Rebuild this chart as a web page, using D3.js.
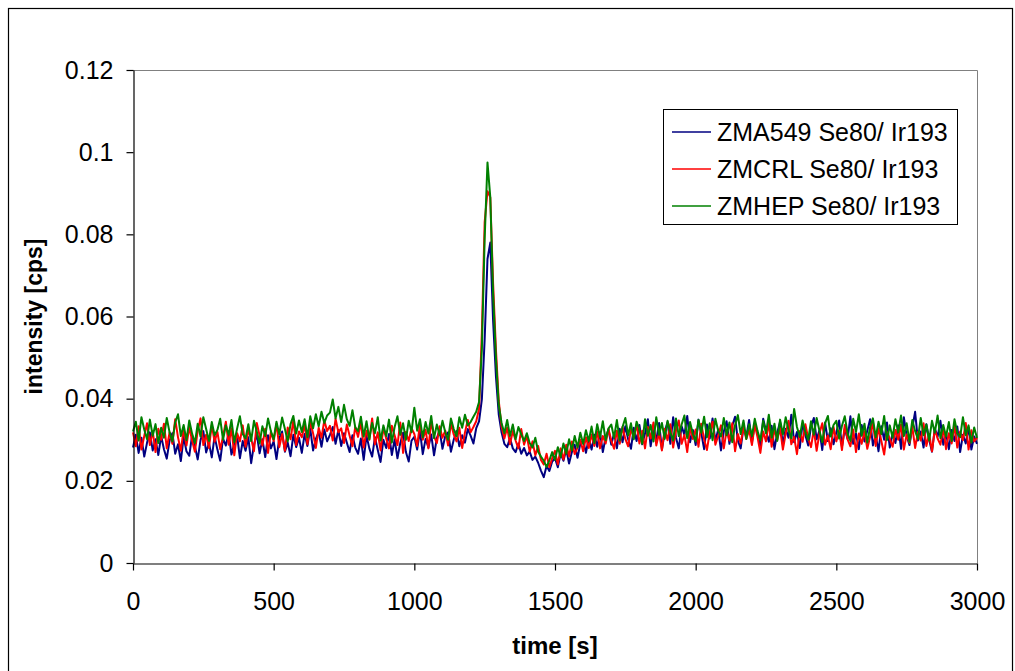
<!DOCTYPE html>
<html>
<head>
<meta charset="utf-8">
<script src="https://cdn.jsdelivr.net/npm/d3@7/dist/d3.min.js"></script>
<style>
  html, body { margin: 0; padding: 0; background: #fff; }
  svg { display: block; font-family: "Liberation Sans", Arial, sans-serif; }
</style>
</head>
<body>
<svg id="chart" width="1015" height="671"></svg>
<script>
// ---- data (time step 10 s, 0..3000 s) ----
const timeStart = 0, timeEnd = 3000, timeStep = 10;
const seriesNames = ["ZMA549 Se80/ Ir193", "ZMCRL Se80/ Ir193", "ZMHEP Se80/ Ir193"];
const seriesColors = ["#000080", "#FF0000", "#008000"];

const zma549 = [
0.0281,0.0312,0.0268,0.0305,0.0259,0.0293,0.0318,0.0274,0.0301,0.0263,
0.0309,0.0277,0.0254,0.0298,0.0316,0.0266,0.0289,0.0248,0.0307,0.0272,
0.0261,0.0311,0.0284,0.0252,0.0299,0.0321,0.0269,0.0292,0.0257,0.0308,
0.0276,0.0249,0.0303,0.0286,0.0315,0.0264,0.0291,0.0310,0.0255,0.0297,
0.0273,0.0306,0.0243,0.0288,0.0314,0.0267,0.0301,0.0258,0.0311,0.0279,
0.0296,0.0253,0.0304,0.0320,0.0271,0.0293,0.0260,0.0312,0.0282,0.0305,
0.0268,0.0314,0.0285,0.0327,0.0274,0.0302,0.0319,0.0283,0.0325,0.0296,
0.0312,0.0331,0.0290,0.0324,0.0285,0.0316,0.0293,0.0270,0.0311,0.0281,
0.0266,0.0303,0.0251,0.0310,0.0279,0.0259,0.0306,0.0275,0.0246,0.0300,
0.0280,0.0314,0.0263,0.0301,0.0255,0.0292,0.0317,0.0270,0.0247,0.0298,
0.0307,0.0276,0.0322,0.0265,0.0302,0.0281,0.0313,0.0262,0.0304,0.0323,
0.0278,0.0309,0.0318,0.0271,0.0300,0.0321,0.0284,0.0311,0.0293,0.0326,
0.0310,0.0291,0.0328,0.0345,0.0398,0.0545,0.0740,0.0780,0.0590,0.0455,
0.0362,0.0318,0.0290,0.0282,0.0304,0.0279,0.0270,0.0291,0.0266,0.0280,
0.0262,0.0271,0.0251,0.0259,0.0244,0.0225,0.0209,0.0236,0.0224,0.0247,
0.0255,0.0233,0.0266,0.0249,0.0276,0.0242,0.0270,0.0288,0.0256,0.0291,
0.0298,0.0268,0.0305,0.0276,0.0312,0.0283,0.0318,0.0270,0.0306,0.0325,
0.0288,0.0316,0.0279,0.0327,0.0294,0.0333,0.0301,0.0278,0.0329,0.0297,
0.0336,0.0289,0.0315,0.0350,0.0284,0.0326,0.0299,0.0341,0.0276,0.0319,
0.0343,0.0290,0.0355,0.0305,0.0279,0.0333,0.0312,0.0358,0.0294,0.0324,
0.0287,0.0349,0.0316,0.0277,0.0337,0.0303,0.0352,0.0296,0.0325,0.0274,
0.0320,0.0345,0.0290,0.0334,0.0356,0.0298,0.0279,0.0330,0.0308,0.0348,
0.0293,0.0338,0.0315,0.0282,0.0351,0.0321,0.0295,0.0334,0.0277,0.0317,
0.0344,0.0288,0.0327,0.0305,0.0361,0.0294,0.0319,0.0280,0.0339,0.0311,
0.0286,0.0332,0.0353,0.0301,0.0323,0.0275,0.0342,0.0297,0.0328,0.0289,
0.0318,0.0347,0.0283,0.0327,0.0302,0.0357,0.0290,0.0315,0.0277,0.0336,
0.0296,0.0322,0.0350,0.0286,0.0311,0.0272,0.0333,0.0300,0.0342,0.0281,
0.0317,0.0292,0.0335,0.0278,0.0355,0.0309,0.0287,0.0329,0.0368,0.0298,
0.0320,0.0281,0.0338,0.0300,0.0271,0.0327,0.0307,0.0346,0.0288,0.0316,
0.0277,0.0324,0.0297,0.0332,0.0270,0.0312,0.0291,0.0330,0.0276,0.0308,
0.0290];

const zmcrl = [
0.0318,0.0284,0.0333,0.0276,0.0309,0.0340,0.0287,0.0321,0.0270,0.0327,
0.0300,0.0339,0.0279,0.0318,0.0290,0.0350,0.0306,0.0273,0.0326,0.0286,
0.0331,0.0298,0.0271,0.0322,0.0352,0.0287,0.0312,0.0280,0.0336,0.0295,
0.0319,0.0277,0.0308,0.0344,0.0288,0.0328,0.0262,0.0316,0.0296,0.0335,
0.0283,0.0323,0.0303,0.0272,0.0341,0.0310,0.0286,0.0327,0.0268,0.0319,
0.0297,0.0339,0.0282,0.0314,0.0273,0.0330,0.0301,0.0348,0.0287,0.0320,
0.0306,0.0336,0.0289,0.0343,0.0316,0.0280,0.0329,0.0305,0.0347,0.0321,
0.0334,0.0298,0.0351,0.0318,0.0328,0.0292,0.0337,0.0310,0.0284,0.0331,
0.0307,0.0343,0.0281,0.0322,0.0300,0.0352,0.0289,0.0318,0.0274,0.0329,
0.0303,0.0279,0.0334,0.0310,0.0287,0.0342,0.0268,0.0319,0.0297,0.0328,
0.0314,0.0285,0.0338,0.0300,0.0324,0.0279,0.0345,0.0308,0.0292,0.0333,
0.0305,0.0322,0.0286,0.0340,0.0313,0.0296,0.0329,0.0280,0.0318,0.0348,
0.0318,0.0331,0.0345,0.0375,0.0560,0.0830,0.0905,0.0890,0.0680,0.0520,
0.0395,0.0332,0.0303,0.0330,0.0289,0.0321,0.0298,0.0279,0.0326,0.0288,
0.0309,0.0271,0.0296,0.0262,0.0285,0.0251,0.0240,0.0266,0.0233,0.0255,
0.0273,0.0240,0.0279,0.0252,0.0288,0.0259,0.0296,0.0265,0.0281,0.0300,
0.0272,0.0306,0.0280,0.0313,0.0285,0.0320,0.0279,0.0309,0.0291,0.0326,
0.0298,0.0278,0.0322,0.0290,0.0331,0.0302,0.0284,0.0327,0.0305,0.0338,
0.0291,0.0322,0.0279,0.0331,0.0303,0.0342,0.0286,0.0317,0.0274,0.0327,
0.0299,0.0338,0.0281,0.0322,0.0347,0.0290,0.0312,0.0270,0.0330,0.0302,
0.0325,0.0283,0.0339,0.0301,0.0275,0.0318,0.0344,0.0288,0.0309,0.0335,
0.0279,0.0323,0.0298,0.0340,0.0272,0.0314,0.0291,0.0331,0.0302,0.0324,
0.0287,0.0337,0.0306,0.0268,0.0320,0.0296,0.0342,0.0283,0.0325,0.0300,
0.0328,0.0276,0.0315,0.0346,0.0289,0.0307,0.0265,0.0321,0.0295,0.0338,
0.0303,0.0282,0.0325,0.0273,0.0316,0.0340,0.0288,0.0310,0.0277,0.0331,
0.0296,0.0322,0.0275,0.0336,0.0301,0.0284,0.0325,0.0270,0.0315,0.0290,
0.0321,0.0278,0.0307,0.0343,0.0285,0.0328,0.0297,0.0264,0.0318,0.0302,
0.0283,0.0324,0.0300,0.0337,0.0276,0.0313,0.0292,0.0332,0.0280,0.0319,
0.0298,0.0340,0.0285,0.0314,0.0272,0.0325,0.0303,0.0288,0.0329,0.0277,
0.0316,0.0291,0.0334,0.0281,0.0320,0.0299,0.0341,0.0276,0.0323,0.0296,
0.0305];

const zmhep = [
0.0320,0.0344,0.0298,0.0355,0.0325,0.0301,0.0349,0.0310,0.0338,0.0292,
0.0329,0.0305,0.0353,0.0318,0.0296,0.0342,0.0362,0.0309,0.0336,0.0299,
0.0347,0.0315,0.0292,0.0339,0.0308,0.0355,0.0326,0.0297,0.0343,0.0311,
0.0324,0.0351,0.0300,0.0335,0.0312,0.0348,0.0294,0.0327,0.0357,0.0314,
0.0303,0.0338,0.0297,0.0346,0.0320,0.0291,0.0333,0.0309,0.0352,0.0321,
0.0301,0.0344,0.0313,0.0354,0.0326,0.0296,0.0338,0.0358,0.0315,0.0347,
0.0319,0.0350,0.0306,0.0357,0.0328,0.0362,0.0333,0.0368,0.0341,0.0359,
0.0366,0.0398,0.0352,0.0380,0.0343,0.0385,0.0350,0.0334,0.0372,0.0330,
0.0321,0.0356,0.0308,0.0345,0.0301,0.0341,0.0316,0.0355,0.0298,0.0335,
0.0309,0.0349,0.0293,0.0331,0.0357,0.0312,0.0340,0.0300,0.0346,0.0318,
0.0378,0.0322,0.0350,0.0306,0.0343,0.0315,0.0358,0.0304,0.0337,0.0311,
0.0346,0.0318,0.0300,0.0352,0.0326,0.0309,0.0355,0.0329,0.0361,0.0335,
0.0343,0.0356,0.0368,0.0392,0.0520,0.0790,0.0975,0.0890,0.0655,0.0500,
0.0385,0.0341,0.0316,0.0348,0.0309,0.0337,0.0301,0.0331,0.0313,0.0297,
0.0316,0.0292,0.0281,0.0305,0.0271,0.0259,0.0249,0.0234,0.0250,0.0270,
0.0251,0.0282,0.0258,0.0291,0.0266,0.0301,0.0274,0.0309,0.0281,0.0317,
0.0290,0.0323,0.0297,0.0332,0.0292,0.0338,0.0306,0.0345,0.0299,0.0327,
0.0337,0.0305,0.0348,0.0298,0.0331,0.0353,0.0311,0.0340,0.0301,0.0344,
0.0325,0.0290,0.0350,0.0310,0.0336,0.0296,0.0355,0.0312,0.0341,0.0302,
0.0346,0.0318,0.0298,0.0352,0.0309,0.0337,0.0359,0.0304,0.0343,0.0314,
0.0296,0.0348,0.0317,0.0356,0.0306,0.0340,0.0299,0.0351,0.0322,0.0308,
0.0353,0.0311,0.0342,0.0294,0.0335,0.0360,0.0314,0.0347,0.0302,0.0338,
0.0309,0.0351,0.0321,0.0298,0.0346,0.0316,0.0361,0.0305,0.0339,0.0297,
0.0349,0.0313,0.0355,0.0323,0.0303,0.0375,0.0331,0.0307,0.0347,0.0318,
0.0300,0.0345,0.0312,0.0353,0.0322,0.0294,0.0340,0.0358,0.0308,0.0336,
0.0346,0.0303,0.0334,0.0357,0.0316,0.0297,0.0351,0.0319,0.0362,0.0310,
0.0339,0.0293,0.0331,0.0352,0.0306,0.0344,0.0314,0.0358,0.0299,0.0335,
0.0305,0.0350,0.0318,0.0359,0.0309,0.0340,0.0295,0.0348,0.0321,0.0302,
0.0353,0.0311,0.0337,0.0298,0.0346,0.0317,0.0359,0.0304,0.0336,0.0308,
0.0343,0.0297,0.0350,0.0316,0.0306,0.0355,0.0311,0.0335,0.0293,0.0330,
0.0304];

const xTicks = [0, 500, 1000, 1500, 2000, 2500, 3000];
const yTicks = [0, 0.02, 0.04, 0.06, 0.08, 0.1, 0.12];
const yTickLabels = ["0", "0.02", "0.04", "0.06", "0.08", "0.1", "0.12"];
const xTitle = "time [s]";
const yTitle = "intensity [cps]";

// ---- drawing ----
const svg = d3.select("#chart");
const plot = { left: 133, right: 977, top: 70, bottom: 563 };
const x = d3.scaleLinear().domain([timeStart, timeEnd]).range([plot.left, plot.right]);
const y = d3.scaleLinear().domain([0, 0.12]).range([plot.bottom, plot.top]);

// outer chart border
svg.append("rect").attr("x", 8.5).attr("y", 8.5).attr("width", 1004).attr("height", 672)
  .attr("fill", "#fff").attr("stroke", "#000").attr("stroke-width", 1.2);

// plot area top/right border (gray)
svg.append("path")
  .attr("d", `M${plot.left},${plot.top + 0.5}H${plot.right + 0.5}V${plot.bottom}`)
  .attr("fill", "none").attr("stroke", "#808080").attr("stroke-width", 1);

const times = d3.range(timeStart, timeEnd + 1, timeStep);
const allSeries = [zma549, zmcrl, zmhep];

const line = d3.line()
  .x((d, i) => x(times[i]))
  .y(d => y(d));

allSeries.forEach((s, k) => {
  svg.append("path")
    .datum(s)
    .attr("d", line)
    .attr("fill", "none")
    .attr("stroke", seriesColors[k])
    .attr("stroke-width", 2)
    .attr("stroke-linejoin", "round");
});

// axes
const xAxis = d3.axisBottom(x).tickValues(xTicks).tickFormat(d => String(d))
  .tickSizeInner(7).tickSizeOuter(0).tickPadding(22);
const yAxis = d3.axisLeft(y).tickValues(yTicks).tickFormat((d, i) => yTickLabels[i])
  .tickSizeInner(7).tickSizeOuter(0).tickPadding(13);

const gx = svg.append("g").attr("transform", `translate(0,${plot.bottom + 0.5})`).call(xAxis);
const gy = svg.append("g").attr("transform", `translate(${plot.left + 0.5},0)`).call(yAxis);
[gx, gy].forEach(g => {
  g.select(".domain").attr("stroke", "#000").attr("stroke-width", 1.2);
  g.selectAll(".tick line").attr("stroke", "#000").attr("stroke-width", 1.2);
  g.selectAll(".tick text").attr("fill", "#000")
    .style("font-family", '"Liberation Sans", Arial, sans-serif').style("font-size", "25px");
});

// axis titles
svg.append("text").attr("x", (plot.left + plot.right) / 2).attr("y", 654)
  .attr("text-anchor", "middle").style("font-size", "24px").style("font-weight", "bold")
  .text(xTitle);
svg.append("text")
  .attr("transform", `translate(42,${(plot.top + plot.bottom) / 2}) rotate(-90)`)
  .attr("text-anchor", "middle").style("font-size", "23px").style("font-weight", "bold")
  .text(yTitle);

// legend
const lg = svg.append("g");
lg.append("rect").attr("x", 663.5).attr("y", 109.5).attr("width", 294).attr("height", 115)
  .attr("fill", "#fff").attr("stroke", "#000").attr("stroke-width", 1);
const rowY = [132, 169, 206];
seriesNames.forEach((n, k) => {
  lg.append("line").attr("x1", 672).attr("x2", 711).attr("y1", rowY[k]).attr("y2", rowY[k])
    .attr("stroke", seriesColors[k]).attr("stroke-width", 1.5);
  lg.append("text").attr("x", 717).attr("y", rowY[k]).attr("dy", "0.36em")
    .style("font-size", "25px").text(n);
});
</script>
</body>
</html>
